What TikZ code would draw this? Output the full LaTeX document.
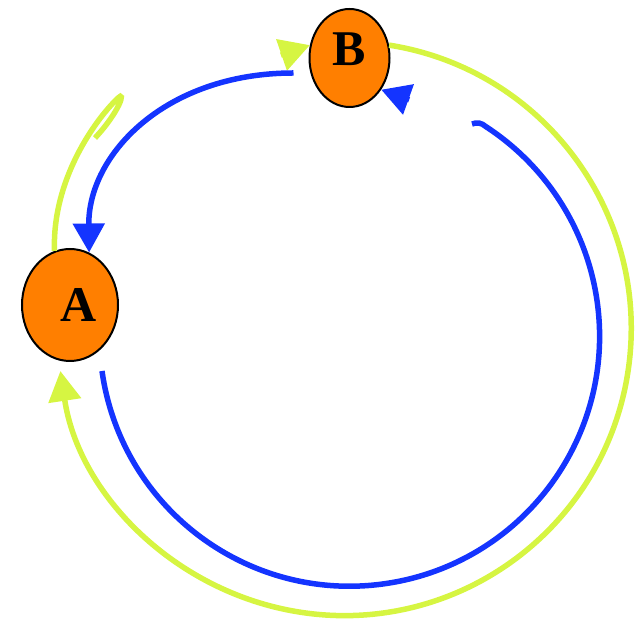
\documentclass[tikz,border=0pt]{standalone}
\usepackage{fontspec}
\setmainfont{Liberation Serif}
\usetikzlibrary{shapes.geometric, arrows.meta, positioning, calc}
\definecolor{kuning}{RGB}{214,245,66}
\definecolor{biru}{RGB}{20,52,255}
\definecolor{oranye}{RGB}{255,127,0}

\begin{document}
\begin{tikzpicture}[
			x=1pt, y=1pt,
			simpul/.style={draw, ellipse, fill=oranye, line width=2pt, inner sep=0pt, font=\fontsize{50}{60}\selectfont\bfseries},
			garisk/.style={draw=kuning, line width=5.5pt},
			garisb/.style={draw=biru, line width=5.5pt},
			panahk/.style={garisk, -{Triangle[length=30pt, width=32pt]}},
			panahb/.style={garisb, -{Triangle[length=29pt, width=31pt]}}
		]
		\useasboundingbox (0,0) rectangle (638,621);

		% Simpul A dan B
		\node[simpul, minimum width=96pt, minimum height=112pt] (A) at (70,316) {\hspace*{18pt}A};
		\node[simpul, minimum width=80pt, minimum height=98pt, text depth=17pt] (B) at (349.5,563) {B};

		% Titik ujung bebas
		\coordinate (k) at ([shift={(-29,-10)}]B.162);
		\coordinate (bout) at ([shift={(-15,-15)}]B.west);
		\coordinate (aout) at ([shift={(32,-9)}]A.south);
		\coordinate (bk) at ([shift={(28,-10)}]B.-45);

		% Busur kuning
		\draw[panahk] (B.18) arc[start angle=81, end angle=-171.5, radius=287];
		\draw[garisk] (A.106) .. controls (52,441) and (95,501) .. (118,523) .. controls (126,531) and (120,510) .. (95,483);
		\draw[panahk] (k) -- (B.162);

		% Busur biru
		\draw[panahb] (bout) .. controls (165,548) and (88,466) .. (A.70);
		\draw[garisb] (aout) arc[start angle=-172, end angle=57, radius=250] .. controls (481.6,498.2) and (477,499) .. (472,497);
		\draw[panahb] (bk) -- (B.-45);
	\end{tikzpicture}
\end{document}
